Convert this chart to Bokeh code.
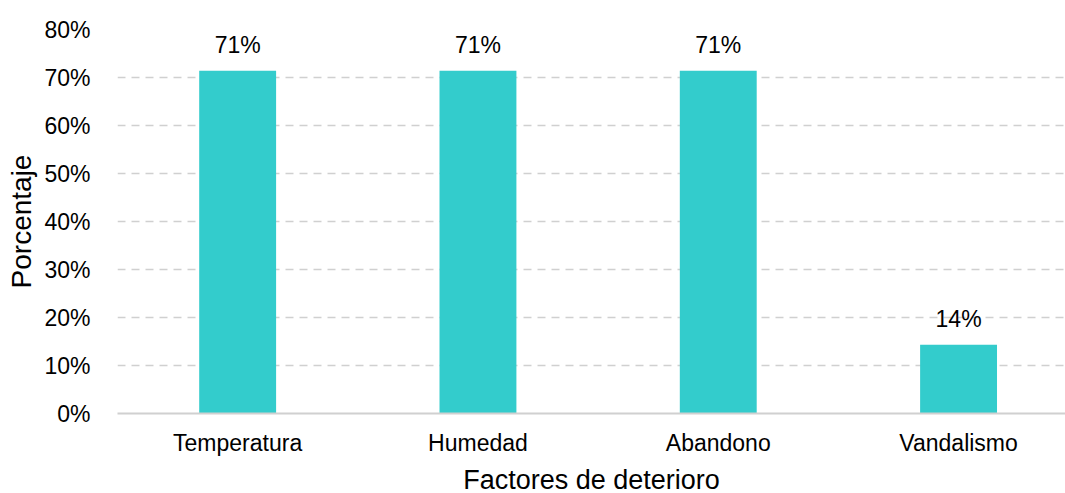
from bokeh.plotting import figure
from bokeh.models import ColumnDataSource, NumeralTickFormatter, Range1d, FixedTicker
from bokeh.core.properties import value
from bokeh.embed import file_html
from bokeh.resources import INLINE

categories = ["Temperatura", "Humedad", "Abandono", "Vandalismo"]
values = [0.714, 0.714, 0.714, 0.143]
labels = ["71%", "71%", "71%", "14%"]
y_ticks = [0, 0.1, 0.2, 0.3, 0.4, 0.5, 0.6, 0.7, 0.8]

FONT = "Liberation Sans"

xpos = [i + 0.5 for i in range(len(categories))]
src = ColumnDataSource(dict(x=xpos, val=values, lab=labels))

# the reference's plot area runs past the right edge of the picture
p = figure(x_range=Range1d(0, 3.945), y_range=Range1d(0, 0.8),
           frame_width=948, frame_height=384,
           output_backend="svg", toolbar_location=None,
           min_border_left=117, min_border_top=29, min_border_bottom=80, min_border_right=0)
p.outline_line_color = None
p.background_fill_color = "white"

p.vbar(x="x", top="val", width=0.32, source=src, fill_color="#33CCCC", line_color=None)
p.text(x="x", y="val", text="lab", source=src, text_align="center", text_baseline="bottom",
       y_offset=-13, text_font=value(FONT), text_font_size="23px", text_color="#000000")

p.xgrid.grid_line_color = None
p.ygrid.grid_line_color = "#d0d0d0"
p.ygrid.grid_line_dash = "8 6"
p.ygrid.grid_line_width = 1.5

p.yaxis.ticker = FixedTicker(ticks=y_ticks)
p.yaxis.formatter = NumeralTickFormatter(format="0%")
p.yaxis.axis_line_color = None
p.yaxis.major_tick_line_color = None
p.yaxis.minor_tick_line_color = None
p.yaxis.major_label_text_font = FONT
p.yaxis.major_label_text_font_size = "23px"
p.yaxis.major_label_text_color = "#000000"
p.yaxis.major_label_standoff = 21
p.yaxis.axis_label = "Porcentaje"
p.yaxis.axis_label_text_font = FONT
p.yaxis.axis_label_text_font_size = "28px"
p.yaxis.axis_label_text_font_style = "normal"
p.yaxis.axis_label_text_color = "#000000"
p.yaxis.axis_label_standoff = 4

p.xaxis.ticker = FixedTicker(ticks=xpos)
p.xaxis.major_label_overrides = {x: c for x, c in zip(xpos, categories)}
p.xaxis.axis_line_color = "#d0d0d0"
p.xaxis.axis_line_width = 2
p.xaxis.major_tick_line_color = None
p.xaxis.minor_tick_line_color = None
p.xaxis.major_label_text_font = FONT
p.xaxis.major_label_text_font_size = "23px"
p.xaxis.major_label_text_color = "#000000"
p.xaxis.major_label_standoff = 10
p.xaxis.axis_label = "Factores de deterioro"
p.xaxis.axis_label_text_font = FONT
p.xaxis.axis_label_text_font_size = "27px"
p.xaxis.axis_label_text_font_style = "normal"
p.xaxis.axis_label_text_color = "#000000"
p.xaxis.axis_label_standoff = 6

open("out.html", "w").write(file_html(p, INLINE))
